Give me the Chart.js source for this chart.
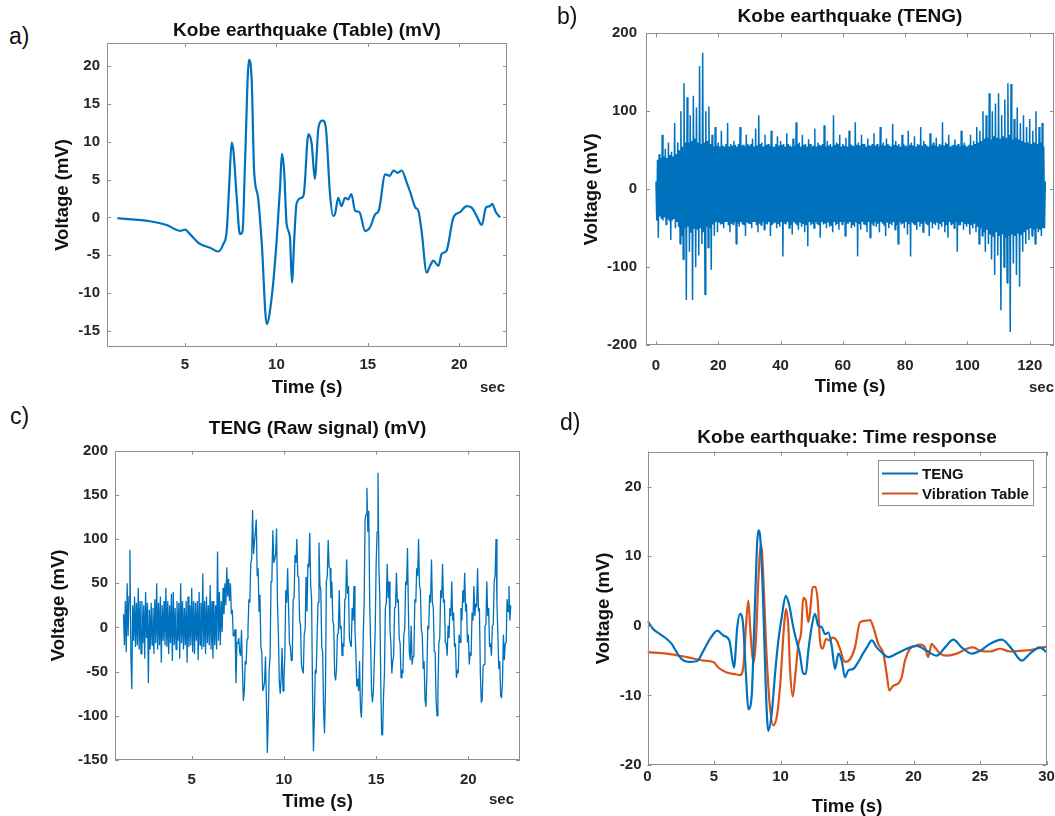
<!DOCTYPE html>
<html>
<head>
<meta charset="utf-8">
<script src="https://cdn.jsdelivr.net/npm/chart.js@4.4.1/dist/chart.umd.min.js"></script>
<style>
  body { margin: 0; width: 1055px; height: 816px; background: #fff; position: relative; overflow: hidden; }
  canvas { position: absolute; }
  .tag { position: absolute; font-family: "Liberation Sans", Arial, sans-serif; font-size: 23px; line-height: 1; color: #111; }
  .sec { position: absolute; font-family: "Liberation Sans", Arial, sans-serif; font-weight: bold; font-size: 15px; line-height: 1; color: #262626; }
</style>
</head>
<body>
<!-- canvases are widened to the right so each title sits centred over its axes box -->
<canvas id="chartA" width="534" height="400" style="left:40px;top:8px"></canvas>
<canvas id="chartC" width="555" height="408" style="left:40px;top:408px"></canvas>
<canvas id="chartB" width="604" height="408" style="left:548px;top:0px"></canvas>
<canvas id="chartD" width="598" height="408" style="left:548px;top:408px"></canvas>

<div class="tag" style="left:9px;top:25px">a)</div>
<div class="tag" style="left:557px;top:5px">b)</div>
<div class="tag" style="left:10px;top:405px">c)</div>
<div class="tag" style="left:560px;top:411px">d)</div>
<div class="sec" style="left:480px;top:379px">sec</div>
<div class="sec" style="left:1029px;top:379px">sec</div>
<div class="sec" style="left:489px;top:791px">sec</div>

<script>
// ---- a) Kobe earthquake, vibration table (mV) ----
const aTime = [1.3, 3.09, 4.0, 4.73, 5.0, 5.27, 5.82, 6.37, 6.82, 7.1, 7.28, 7.43, 7.55, 7.65, 7.83, 8.0, 8.15, 8.28, 8.5, 8.65,
  8.78, 9.0, 9.2, 9.47, 9.74, 10.0, 10.2, 10.3, 10.42, 10.56, 10.74, 10.85, 10.98, 11.1, 11.38, 11.5, 11.75, 11.93, 12.1, 12.3,
  12.53, 12.7, 12.93, 13.1, 13.2, 13.38, 13.56, 13.75, 13.93, 14.1, 14.3, 14.54, 14.85, 15.12, 15.4, 15.6, 15.95, 16.2, 16.4, 16.63,
  16.85, 17.1, 17.35, 17.6, 17.76, 17.94, 18.22, 18.4, 18.58, 18.86, 19.04, 19.3, 19.68, 20.04, 20.4, 20.68, 20.95, 21.23, 21.46, 21.68,
  21.8, 22.0, 22.23];
const aVolt = [-0.1, -0.5, -1.0, -1.76, -1.6, -2.2, -3.5, -4.0, -4.5, -3.5, -1.8, 4.8, 9.9, 8.8, 2.6, -2.2, -1.8, 7.0, 20.8, 18,
  6.2, 2.6, -3.5, -14.1, -10.6, -3.5, 4.0, 8.4, 6.2, -0.9, -2.6, -8.6, -2.6, 1.8, 2.6, 3.1, 11.0, 9.7, 5.1, 11.9,
  12.8, 11.9, 3.1, 0.2, 0.4, 2.6, 1.5, 2.6, 2.4, 3.1, 0.9, 0.7, -1.8, -1.3, 0.4, 0.9, 5.7, 5.5, 6.2, 5.9,
  6.2, 4.8, 3.1, 1.3, 0.9, -1.8, -7.3, -6.4, -5.7, -6.4, -4.8, -4.4, 0, 0.7, 1.5, 1.3, 0.2, -1.0, 1.3, 1.5,
  1.8, 0.7, 0];
const aXTicks = [5, 10, 15, 20];
const aYTicks = [-15, -10, -5, 0, 5, 10, 15, 20];

// ---- b) Kobe earthquake, TENG, whole record (one sample every 0.25 s, 10 s per row) ----
const bStep = 0.25;
const bVolt = [
  10, -40, 38, -62, 45, -35, 40, -38, 70, -40, 42, -36, 52, -45, 40, -38, 60, -40, 44, -65, 48, -40, 42, -38, 85, -50, 45, -42, 60, -48, 50, -70, 100, -60, 55, -90, 136, -50, 60, -142,
  118, -48, 60, -80, 95, -55, 62, -142, 120, -50, 65, -100, 105, -52, 60, -85, 158, -50, 58, -70, 175, -55, 60, -135, 100, -48, 62, -75, 106, -50, 58, -103, 70, -45, 55, -60, 80, -42, 56, -55,
  60, -42, 55, -45, 75, -44, 56, -50, 55, -42, 58, -42, 85, -46, 55, -55, 58, -44, 56, -45, 62, -42, 57, -70, 55, -44, 58, -48, 80, -42, 56, -45, 57, -46, 55, -60, 70, -42, 58, -44,
  56, -44, 58, -50, 65, -42, 55, -42, 78, -46, 56, -55, 95, -44, 58, -46, 60, -42, 55, -52, 70, -44, 57, -45, 58, -42, 56, -60, 75, -46, 55, -44, 55, -42, 58, -50, 68, -44, 56, -48,
  62, -42, 57, -86, 58, -44, 55, -45, 72, -42, 58, -50, 56, -46, 55, -58, 65, -42, 56, -44, 86, -46, 58, -52, 60, -42, 55, -48, 70, -44, 57, -55, 58, -46, 55, -73, 64, -42, 58, -46,
  55, -44, 56, -50, 78, -42, 55, -44, 60, -46, 57, -62, 56, -42, 58, -45, 82, -44, 55, -50, 62, -42, 56, -48, 58, -46, 55, -55, 95, -42, 57, -46, 60, -44, 58, -52, 70, -42, 55, -45,
  58, -42, 56, -60, 66, -44, 55, -44, 75, -42, 58, -50, 56, -46, 55, -48, 86, -42, 57, -86, 60, -44, 56, -52, 70, -42, 58, -45, 58, -46, 55, -55, 65, -42, 56, -62, 56, -44, 58, -46,
  72, -42, 56, -48, 58, -44, 55, -55, 80, -42, 57, -44, 60, -46, 56, -60, 65, -42, 58, -50, 56, -44, 55, -46, 84, -42, 57, -52, 62, -46, 56, -70, 58, -42, 55, -45, 70, -44, 58, -50,
  56, -42, 55, -58, 75, -44, 57, -86, 60, -42, 56, -45, 68, -46, 55, -52, 58, -42, 57, -48, 80, -44, 56, -55, 62, -42, 58, -44, 56, -46, 55, -60, 72, -42, 57, -50, 60, -44, 56, -46,
  66, -42, 55, -52, 58, -44, 57, -48, 86, -42, 56, -55, 60, -46, 58, -62, 70, -42, 55, -45, 56, -44, 57, -50, 64, -42, 56, -80, 58, -46, 55, -46, 75, -42, 57, -52, 60, -44, 56, -48,
  55, -44, 57, -58, 70, -46, 56, -50, 62, -44, 58, -55, 80, -48, 60, -70, 75, -50, 62, -60, 100, -55, 65, -80, 95, -52, 66, -70, 123, -58, 64, -90, 100, -60, 68, -110, 110, -55, 66, -85,
  123, -60, 65, -155, 95, -58, 68, -100, 115, -62, 66, -120, 136, -60, 70, -183, 135, -58, 64, -95, 90, -60, 66, -110, 105, -56, 64, -125, 85, -58, 62, -80, 95, -55, 60, -70, 80, -52, 60, -65,
  90, -50, 58, -60, 75, -52, 60, -70, 100, -50, 58, -55, 80, -52, 60, -60, 85, -50, 55, -50, 10];
const bXTicks = [0, 20, 40, 60, 80, 100, 120];
const bYTicks = [-200, -100, 0, 100, 200];

// ---- c) TENG raw signal (one sample every 0.05 s from 1.3 s, 1 s per row) ----
const cStart = 1.3;
const cStep = 0.05;
const cVolt = [
  15, -20, 30, -28, 50, -10, 35, 88, -30, -70, 25, -15, 35, -22, 28, -20, 45, -25, 30, -30,
  30, -18, 25, -35, 40, -12, 28, -63, 20, -25, 28, -20, 22, -30, 32, -18, 50, -25, 28, -20,
  35, -40, 25, -15, 30, -20, 45, -22, 30, -30, 25, -18, 38, -38, 40, -20, 22, -25, 30, -15,
  28, -35, 50, -18, 30, -25, 22, -20, 30, -40, 35, -22, 25, -20, 45, -28, 30, -30, 28, -15,
  30, -37, 40, -20, 28, -25, 61, -22, 30, -30, 35, -18, 25, -20, 48, -25, 30, -35, 30, -20,
  25, -25, 86, -15, 40, -20, 30, -5, 45, 15, 50, 25, 68, 35, 55, 30, 50, 15, 20, -10,
  -8, -2, -63, -17, -18, -12, -28, -32, -3, -47, -83, -72, -38, -42, -13, -2, 32, 28, 72, 78,
  133, 83, 97, 108, 122, 58, 67, 18, 37, -22, -28, -72, -68, -62, -33, -82, -142, -102, -48, -32,
  52, 58, 110, 73, 77, 83, 112, 28, -8, -62, -75, -57, -23, -72, -58, -32, 42, 28, 67, 23,
  -18, -22, -38, -37, 32, 33, 82, 73, 100, 58, 57, 8, 2, -42, -48, -52, -8, -2, 57, 18,
  72, 68, 107, 48, 32, -72, -140, -102, -48, -52, -8, 28, 96, 48, 42, -22, -28, -92, -120, -72,
  52, 58, 99, 68, 67, 33, 52, 8, 2, -52, -60, -47, -8, -7, 42, -2, 2, -32, -18, -22,
  32, 33, 77, 38, 47, -12, -18, -22, 22, 8, 47, -2, -28, -67, -58, -72, -38, -92, -102, -72,
  -8, 28, 122, 128, 158, 108, 132, 28, -18, -72, -85, -72, -38, -2, 72, 108, 175, 68, 32, -62,
  -121, -122, -78, -52, 22, 28, 72, 33, 52, -2, -18, -52, -38, -32, 22, 23, 62, 28, 32, -12,
  -18, -57, -48, -52, -8, -2, 52, 48, 90, 18, -28, -37, 2, -42, -33, -22, 32, 28, 67, 58,
  100, 48, 42, -2, -8, -47, -38, -82, -90, -52, 2, -2, 37, 28, 77, 28, 22, -27, -28, -82,
  -100, -72, -18, -12, 42, 33, 72, 28, 32, -17, -18, -32, 2, -12, 22, 13, 52, 8, 17, -22,
  -18, -57, -48, -52, -8, -17, 22, 8, 42, 28, 62, 18, 27, -17, -8, -42, -28, -32, 17, 8,
  47, 13, 27, 23, 67, 18, 22, -52, -85, -82, -43, -42, 2, 3, 52, 13, 22, -22, -18, -32,
  2, 3, 52, 58, 100, 28, -8, -47, -38, -77, -80, -62, -8, -37, -18, -17, 32, 18, 47, 8,
  25];
const cXTicks = [5, 10, 15, 20];
const cYTicks = [-150, -100, -50, 0, 50, 100, 150, 200];

// ---- d) Kobe earthquake: time response ----
const dTengTime = [0, 0.44, 0.94, 1.44, 1.82, 2.19, 2.57, 3.07, 3.7, 4.2, 4.7, 5.25, 5.7, 6.15, 6.5, 6.75, 6.95, 7.16, 7.4, 7.58,
  7.83, 8.03, 8.33, 8.5, 8.71, 8.9, 9.08, 9.34, 9.59, 9.84, 10.09, 10.39, 10.64, 10.96, 11.26, 11.45, 11.71, 11.9, 12.09, 12.34,
  12.59, 12.84, 13.1, 13.35, 13.6, 13.85, 14.1, 14.35, 14.6, 14.85, 15.1, 15.47, 15.85, 16.2, 16.5, 16.86, 17.23, 17.6, 18.1, 18.74,
  19.5, 20.24, 21.0, 21.74, 22.37, 23.0, 23.62, 24.37, 25.0, 25.75, 26.63, 27.38, 28.13, 28.76, 29.5, 30];
const dTengVolt = [0.7, -0.5, -1.2, -1.9, -2.6, -3.8, -4.8, -5.2, -5.1, -3.6, -1.9, -0.7, -1.4, -2.1, -6.0, -0.2, 1.7, 0.7, -6.9, -12.0,
  -10.2, 0.2, 13.7, 12.1, 2.6, -9.3, -15.1, -12.6, -6.9, -2.1, 1.2, 4.3, 3.1, -0.2, -2.6, -4.0, -6.9, -6.9, -3.6, -0.2,
  1.7, 0, -0.2, -1.2, -1.0, -2.9, -6.2, -4.0, -5.0, -7.4, -6.4, -6.2, -5.2, -4.0, -3.1, -2.1, -3.1, -3.8, -4.5, -4.0,
  -3.3, -2.9, -3.6, -4.3, -3.1, -2.0, -3.1, -4.0, -3.6, -2.6, -2.0, -3.3, -5.0, -4.0, -3.1, -3.8];
const dTableTime = [0, 1.44, 2.95, 4.2, 4.95, 5.32, 5.95, 6.7, 6.95, 7.2, 7.4, 7.58, 7.75, 7.96, 8.15, 8.33, 8.53, 8.7, 8.9, 9.16,
  9.46, 9.76, 10.0, 10.26, 10.41, 10.59, 10.71, 10.92, 11.12, 11.35, 11.55, 11.71, 11.9, 12.09, 12.21, 12.42, 12.62, 12.8, 12.97, 13.17,
  13.42, 13.67, 13.92, 14.22, 14.47, 14.85, 15.23, 15.6, 15.98, 16.35, 16.73, 16.98, 17.35, 17.73, 17.98, 18.18, 18.48, 18.86, 19.11, 19.36,
  19.74, 20.1, 20.5, 20.86, 21.1, 21.37, 21.6, 22.0, 22.5, 23.25, 24.0, 24.5, 25.0, 25.75, 26.5, 27.26, 28.0, 28.76, 29.5, 30];
const dTableVolt = [-3.8, -4.0, -4.5, -5.0, -5.2, -6.0, -6.7, -7.0, -7.1, -6.0, -0.2, 3.6, -1.2, -5.4, -2.1, 6.4, 11.7, 7.4, -2.1, -10.7,
  -14.3, -12.6, -7.9, -0.2, 2.4, -0.2, -6.0, -10.2, -6.9, -2.6, -1.0, 4.0, 3.6, 0.5, 1.7, 5.5, 5.6, 3.6, -2.1, -3.3,
  -1.9, -2.1, -1.7, -2.1, -3.3, -5.2, -4.8, -3.1, 0.5, 0.7, 0.8, -0.2, -2.6, -4.0, -6.9, -9.3, -8.6, -8.3, -7.4, -5.0,
  -3.3, -2.9, -2.7, -3.1, -4.5, -2.6, -3.1, -4.0, -4.3, -4.0, -3.3, -3.1, -3.6, -3.7, -3.3, -3.7, -3.6, -3.5, -3.2, -3.0];
const dXTicks = [0, 5, 10, 15, 20, 25, 30];
const dYTicks = [-20, -10, 0, 10, 20];

const BLUE = '#0072BD';
const ORANGE = '#D95319';
const FAMILY = '"Liberation Sans", Arial, sans-serif';
const TICK_FONT = { family: FAMILY, size: 15, weight: 'bold' };
const AXIS_FONT = { family: FAMILY, size: 18.5, weight: 'bold', lineHeight: 1 };
const TITLE_FONT = { family: FAMILY, size: 19, weight: 'bold' };

const toPoints = (xs, ys) => xs.map((x, i) => ({ x: x, y: ys[i] }));
const sampled = (t0, dt, ys) => ys.map((y, i) => ({ x: +(t0 + i * dt).toFixed(3), y: y }));

// matlab style box with inward ticks on all four sides
const boxPlugin = {
  id: 'matlabBox',
  afterDraw(chart) {
    const { ctx, chartArea: a, scales } = chart;
    const len = 4;
    ctx.save();
    ctx.strokeStyle = '#8f8f8f';
    ctx.lineWidth = 1;
    ctx.strokeRect(Math.round(a.left) + 0.5, Math.round(a.top) + 0.5, Math.round(a.width) - 1, Math.round(a.height) - 1);
    ctx.beginPath();
    scales.x.ticks.forEach(t => {
      const px = Math.round(scales.x.getPixelForValue(t.value)) + 0.5;
      ctx.moveTo(px, a.bottom); ctx.lineTo(px, a.bottom - len);
      ctx.moveTo(px, a.top); ctx.lineTo(px, a.top + len);
    });
    scales.y.ticks.forEach(t => {
      const py = Math.round(scales.y.getPixelForValue(t.value)) + 0.5;
      ctx.moveTo(a.left, py); ctx.lineTo(a.left + len, py);
      ctx.moveTo(a.right, py); ctx.lineTo(a.right - len, py);
    });
    ctx.stroke();
    ctx.restore();
  }
};

// boxed legend in the upper right corner of panel d
const boxLegend = {
  id: 'boxLegend',
  afterDraw(chart) {
    const { ctx, chartArea: a } = chart;
    const w = 155, h = 45;
    const x0 = Math.round(a.right - 13.5 - w), y0 = Math.round(a.top + 8);
    ctx.save();
    ctx.fillStyle = '#fff';
    ctx.fillRect(x0, y0, w, h);
    ctx.strokeStyle = '#8f8f8f';
    ctx.lineWidth = 1;
    ctx.strokeRect(x0 + 0.5, y0 + 0.5, w, h);
    ctx.font = 'bold 15px ' + FAMILY;
    ctx.textBaseline = 'middle';
    chart.data.datasets.forEach((ds, i) => {
      const yy = y0 + 13.5 + i * 20;
      ctx.strokeStyle = ds.borderColor;
      ctx.lineWidth = 2;
      ctx.beginPath(); ctx.moveTo(x0 + 4, yy); ctx.lineTo(x0 + 40, yy); ctx.stroke();
      ctx.fillStyle = '#111';
      ctx.fillText(ds.label, x0 + 44, yy + 1);
    });
    ctx.restore();
  }
};

function panel(id, g, datasets, extra) {
  return new Chart(document.getElementById(id), {
    type: 'line',
    data: { datasets: datasets },
    options: {
      responsive: false,
      animation: false,
      devicePixelRatio: 1,
      layout: { padding: 0 },
      elements: { point: { radius: 0 } },
      plugins: {
        legend: { display: false },
        tooltip: { enabled: false },
        title: { display: true, text: g.title, color: '#111', font: TITLE_FONT,
                 padding: { top: g.titleTop, bottom: g.titleBottom } }
      },
      scales: {
        x: {
          type: 'linear', min: g.xMin, max: g.xMax,
          grid: { display: false, drawTicks: false }, border: { display: false },
          afterBuildTicks: s => { s.ticks = g.xTicks.map(v => ({ value: v })); },
          afterFit: s => { s.height = g.xHeight; },
          ticks: { color: '#262626', font: TICK_FONT, padding: g.xTickPad, maxRotation: 0, autoSkip: false },
          title: { display: true, text: 'Time (s)', color: '#111', font: AXIS_FONT, padding: { top: 0, bottom: g.xTitlePad } }
        },
        y: {
          type: 'linear', min: g.yMin, max: g.yMax,
          grid: { display: false, drawTicks: false }, border: { display: false },
          afterBuildTicks: s => { s.ticks = g.yTicks.map(v => ({ value: v })); },
          afterFit: s => { s.width = g.yWidth; },
          ticks: { color: '#262626', font: TICK_FONT, padding: g.yTickPad, autoSkip: false },
          title: { display: true, text: 'Voltage (mV)', color: '#111', font: AXIS_FONT, padding: { top: g.yTitlePad, bottom: 0 } }
        },
        // empty right-hand axis: only reserves room so the title stays centred on the canvas
        yR: {
          type: 'linear', position: 'right',
          grid: { display: false, drawTicks: false }, border: { display: false },
          ticks: { display: false },
          afterFit: s => { s.width = g.padRight; }
        }
      }
    },
    plugins: [boxPlugin].concat(extra || [])
  });
}

panel('chartA', {
  title: 'Kobe earthquake (Table) (mV)', titleTop: 11.6, titleBottom: 0.6,
  xMin: 0.735, xMax: 22.61, yMin: -17.11, yMax: 23.04, xTicks: aXTicks, yTicks: aYTicks,
  padRight: 67, xHeight: 61, yWidth: 67, xTickPad: 9, yTickPad: 7, xTitlePad: 11, yTitlePad: 14
}, [{ data: toPoints(aTime, aVolt), borderColor: BLUE, borderWidth: 2.2, cubicInterpolationMode: 'monotone',
      borderJoinStyle: 'round', fill: false }]);

panel('chartC', {
  title: 'TENG (Raw signal) (mV)', titleTop: 9.6, titleBottom: 10.3,
  xMin: 0.84, xMax: 22.8, yMin: -150, yMax: 200, xTicks: cXTicks, yTicks: cYTicks,
  padRight: 75, xHeight: 56, yWidth: 75, xTickPad: 11, yTickPad: 7, xTitlePad: 5, yTitlePad: 10
}, [{ data: sampled(cStart, cStep, cVolt), borderColor: BLUE, borderWidth: 1.3, tension: 0,
      borderJoinStyle: 'bevel', fill: false }]);

panel('chartB', {
  title: 'Kobe earthquake (TENG)', titleTop: 5.6, titleBottom: 4.9,
  xMin: -3.2, xMax: 127.8, yMin: -200, yMax: 200, xTicks: bXTicks, yTicks: bYTicks,
  padRight: 98, xHeight: 62.7, yWidth: 98, xTickPad: 11.7, yTickPad: 9, xTitlePad: 12, yTitlePad: 34.5
}, [{ data: sampled(0, bStep, bVolt), borderColor: BLUE, borderWidth: 1.5, tension: 0,
      borderJoinStyle: 'bevel', fill: false }]);

panel('chartD', {
  title: 'Kobe earthquake: Time response', titleTop: 18.6, titleBottom: 2.3,
  xMin: 0, xMax: 30, yMin: -20, yMax: 25, xTicks: dXTicks, yTicks: dYTicks,
  padRight: 99.5, xHeight: 51, yWidth: 99.5, xTickPad: 3, yTickPad: 6, xTitlePad: 0, yTitlePad: 47
}, [
  { label: 'TENG', data: toPoints(dTengTime, dTengVolt), borderColor: BLUE, borderWidth: 2.2,
    cubicInterpolationMode: 'monotone', borderJoinStyle: 'round', fill: false },
  { label: 'Vibration Table', data: toPoints(dTableTime, dTableVolt), borderColor: ORANGE, borderWidth: 2.2,
    cubicInterpolationMode: 'monotone', borderJoinStyle: 'round', fill: false }
], [boxLegend]);
</script>
</body>
</html>
